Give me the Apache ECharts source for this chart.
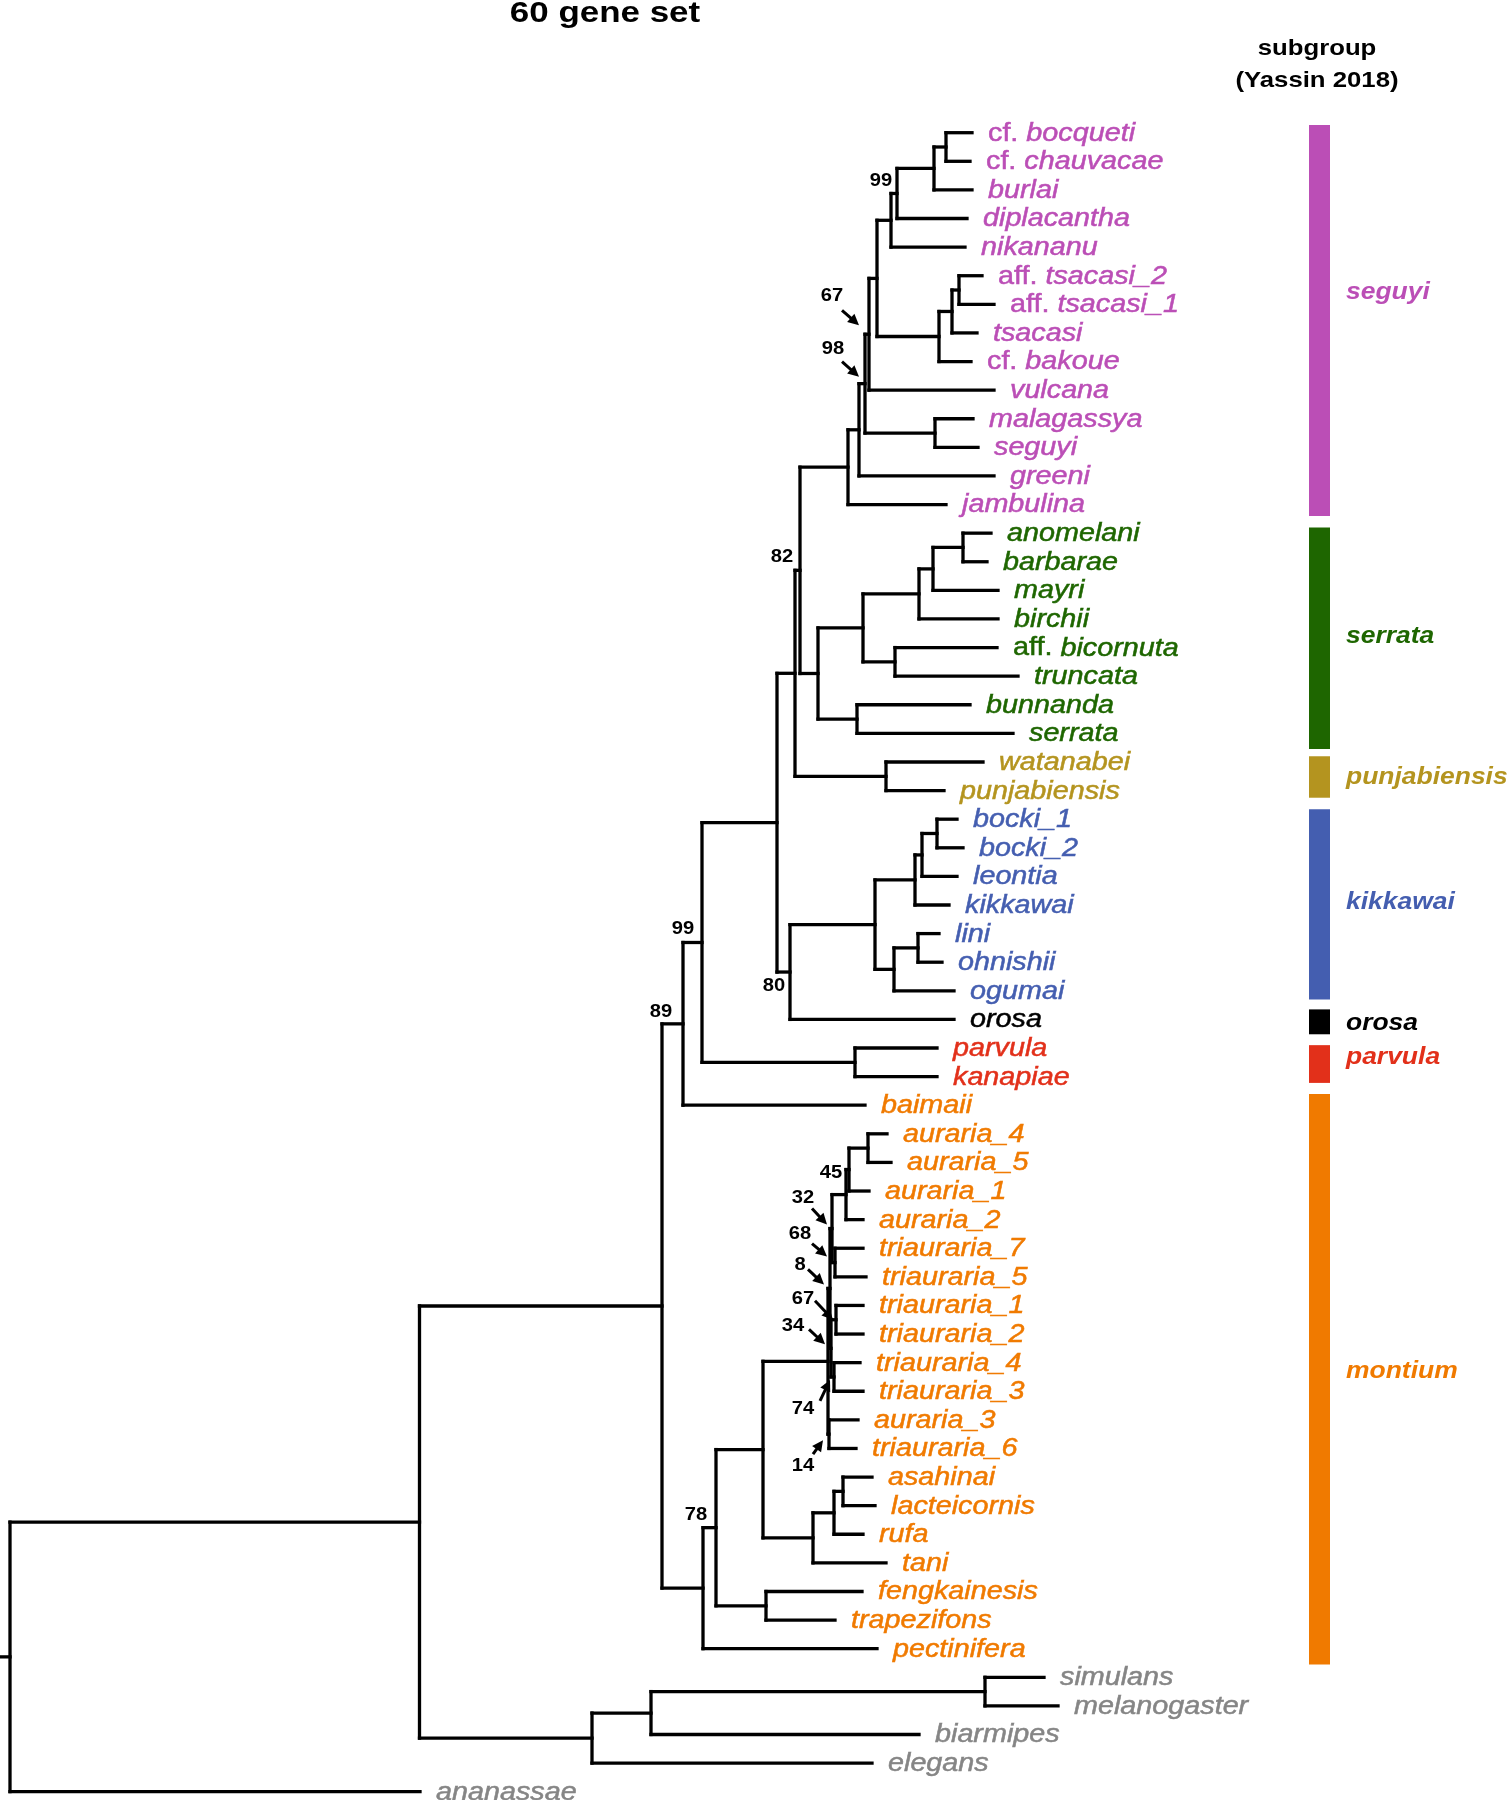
<!DOCTYPE html>
<html><head><meta charset="utf-8">
<script src="https://cdn.jsdelivr.net/npm/echarts@6/dist/echarts.min.js"></script>
<style>html,body{margin:0;padding:0;background:#fff}#c{width:1508px;height:1800px}</style>
</head><body><div id="c"></div>
<script>
// ---------------- DATA ----------------
const leafNames = ['cf. bocqueti','cf. chauvacae','burlai','diplacantha','nikananu','aff. tsacasi_2','aff. tsacasi_1','tsacasi','cf. bakoue','vulcana','malagassya','seguyi','greeni','jambulina','anomelani','barbarae','mayri','birchii','aff. bicornuta','truncata','bunnanda','serrata','watanabei','punjabiensis','bocki_1','bocki_2','leontia','kikkawai','lini','ohnishii','ogumai','orosa','parvula','kanapiae','baimaii','auraria_4','auraria_5','auraria_1','auraria_2','triauraria_7','triauraria_5','triauraria_1','triauraria_2','triauraria_4','triauraria_3','auraria_3','triauraria_6','asahinai','lacteicornis','rufa','tani','fengkainesis','trapezifons','pectinifera','simulans','melanogaster','biarmipes','elegans','ananassae'];
// subgroup index of each leaf (7 = outgroup)
const leafGroup = [0,0,0,0,0,0,0,0,0,0,0,0,0,0, 1,1,1,1,1,1,1,1, 2,2, 3,3,3,3,3,3,3, 4, 5,5, 6,6,6,6,6,6,6,6,6,6,6,6,6,6,6,6,6,6,6,6, 7,7,7,7,7];
// depth of each tip (distance from root)
const tipDepth = [0.962,0.960,0.962,0.957,0.955,0.972,0.984,0.967,0.961,0.984,0.963,0.968,0.984,0.936,0.981,0.977,0.988,0.988,0.987,1.008,0.960,1.003,0.973,0.934,0.947,0.953,0.947,0.939,0.929,0.932,0.944,0.944,0.927,0.927,0.855,0.877,0.881,0.859,0.853,0.853,0.856,0.853,0.853,0.850,0.853,0.848,0.846,0.862,0.865,0.853,0.876,0.852,0.825,0.867,1.034,1.048,0.909,0.862,0.410];
// internal nodes (post-order): id, children (leaf index or node id), depth
const nodeIds = ['BC','BCB','S99','SB','TS1','TS2','TS','SA','S67','MS','S98','S98G','SEG','AB','SERc','SERb','BT','SERa','BS','SER','N82','PW','N795','K4','K3','K1','LO','K2','KIK','N80','N776','PK','N99','N89','A45','A451','C1','C2','N32','C3','C4','Na','Nb','C5','R','AL','AS2','AS','X2','FT','X1','M78','NM','SM','N654','N595','ING','ROOT'];
const nodeKids = [[0,1],['BC',2],['BCB',3],['S99',4],[5,6],['TS1',7],['TS2',8],['SB','TS'],['SA',9],[10,11],['S67','MS'],['S98',12],['S98G',13],[14,15],['AB',16],['SERc',17],[18,19],['SERb','BT'],[20,21],['SERa','BS'],['SEG','SER'],[22,23],['N82','PW'],[24,25],['K4',26],['K3',27],[28,29],['LO',30],['K1','K2'],['KIK',31],['N795','N80'],[32,33],['N776','PK'],['N99',34],[35,36],['A45',37],['A451',38],[39,40],['C1','C2'],[41,42],[43,44],['C3','C4'],['N32','Na'],[45,46],['Nb','C5'],[47,48],['AL',49],['AS2',50],['R','AS'],[51,52],['X2','FT'],['X1',53],['N89','M78'],[54,55],['SM',56],['N654',57],['NM','N595'],['ING',58]];
const nodeDepth = [0.936,0.924,0.887,0.881,0.949,0.942,0.929,0.867,0.859,0.925,0.855,0.849,0.838,0.953,0.923,0.909,0.885,0.853,0.847,0.808,0.790,0.876,0.785,0.927,0.912,0.905,0.908,0.884,0.865,0.780,0.767,0.845,0.692,0.673,0.858,0.839,0.836,0.825,0.822,0.826,0.824,0.821,0.820,0.819,0.818,0.833,0.824,0.803,0.753,0.756,0.706,0.693,0.652,0.975,0.641,0.582,0.4095,0.000];
// bootstrap support shown on the tree
const supportNode  = ['S99','N82','N99','N89','N80','X1','A451','S67','S98','N32','C2','Nb','C3','Na','C4','C5'];
const supportValue = [99,82,99,89,80,78,45,67,98,32,68,8,67,34,74,14];
// subgroups (Yassin 2018)
const groupNames = ['seguyi','serrata','punjabiensis','kikkawai','orosa','parvula','montium'];
const groupBarStart = [-0.27,13.8,21.8,23.65,30.65,31.9,33.61];
const groupBarEnd   = [13.4,21.55,23.25,30.3,31.52,33.22,53.55];
const groupLabelAt  = [5.59,17.63,22.56,26.93,31.16,32.35,43.31];

// ---------------- STYLE / LAYOUT ----------------
const groupColors = ['#BB4EB6','#1E6600','#B4941F','#445EB0','#000000','#E2301A','#F07A00','#858585'];
const FONT = "'Liberation Sans', Arial, Helvetica, sans-serif";
const L = {
  gridTop: 132.7, gridBottom: 8.3, xMin: -0.01, xMax: 1.498,
  rootStem: 0.01, lineWidth: 3.3, labelGap: 16, leafFont: 25, leafScale: 1.15,
  barX: [1.299, 1.320], groupLabelX: 1.336
};
// pixel offsets for support labels / arrows relative to their node: [label dx,dy], arrow tip, arrow start
const supportLayout = {
  S99:{l:[-16,-12]}, N82:{l:[-18,-13]}, N99:{l:[-19,-13]}, N89:{l:[-22,-12]}, N80:{l:[-16,14]},
  X1:{l:[-20,-13]}, A451:{l:[-18,3]},
  S67:{l:[-37,-38], t:[-10,-9], s:[-27,-24]},
  S98:{l:[-32,-35], t:[-6,-7], s:[-23,-22]},
  N32:{l:[-29,-31], t:[-5,-4], s:[-20,-20]},
  C2:{l:[-35,-29], t:[-8,-6], s:[-23,-19]},
  Nb:{l:[-30,-23], t:[-6,-4], s:[-22,-19]},
  C3:{l:[-33,-21], t:[-3,0], s:[-21,-19]},
  Na:{l:[-38,-22], t:[-6,-4], s:[-22,-19]},
  C4:{l:[-31,32], t:[-4,3], s:[-14,24]},
  C5:{l:[-26,32], t:[-6,6], s:[-16,20]}
};

// ---------------- TREE LAYOUT ----------------
const P = {};
leafNames.forEach((n, i) => { P[i] = { x: tipDepth[i], y: i }; });
const segs = [];
nodeIds.forEach((id, k) => {
  const kids = nodeKids[k];
  const y0 = P[kids[0]].y, y1 = P[kids[kids.length - 1]].y;
  P[id] = { x: nodeDepth[k], y: (y0 + y1) / 2 };
  segs.push([nodeDepth[k], y0, nodeDepth[k], y1]);
  kids.forEach(c => segs.push([nodeDepth[k], P[c].y, P[c].x, P[c].y]));
});
segs.push([P.ROOT.x - L.rootStem, P.ROOT.y, P.ROOT.x, P.ROOT.y]);

const chart = echarts.init(document.getElementById('c'), null, { renderer: 'canvas' });

chart.setOption({
  animation: false,
  backgroundColor: '#fff',
  grid: { left: 0, right: 0, top: L.gridTop, bottom: L.gridBottom },
  xAxis: { type: 'value', min: L.xMin, max: L.xMax, show: false },
  yAxis: { type: 'value', min: 0, max: leafNames.length - 1, inverse: true, show: false },
  graphic: [
    { type: 'text', x: 605, y: 14, scaleX: 1.165, style: { text: '60 gene set', fontFamily: FONT, fontWeight: 'bold', fontSize: 30, fill: '#000', align: 'center', verticalAlign: 'middle', textAlign: 'center', textVerticalAlign: 'middle' } },
    { type: 'text', x: 1317, y: 49, scaleX: 1.17, style: { text: 'subgroup', fontFamily: FONT, fontWeight: 'bold', fontSize: 22, fill: '#000', align: 'center', verticalAlign: 'middle', textAlign: 'center', textVerticalAlign: 'middle' } },
    { type: 'text', x: 1317, y: 81, scaleX: 1.17, style: { text: '(Yassin 2018)', fontFamily: FONT, fontWeight: 'bold', fontSize: 22, fill: '#000', align: 'center', verticalAlign: 'middle', textAlign: 'center', textVerticalAlign: 'middle' } }
  ],
  series: [
    { // branches
      type: 'custom', coordinateSystem: 'cartesian2d', data: segs, encode: { x: [0, 2], y: [1, 3] },
      renderItem(params, api) {
        const a = api.coord([api.value(0), api.value(1)]);
        const b = api.coord([api.value(2), api.value(3)]);
        return { type: 'line', shape: { x1: a[0], y1: a[1], x2: b[0], y2: b[1] },
          style: { stroke: '#000', lineWidth: L.lineWidth, lineCap: 'square' } };
      }
    },
    { // tip labels
      type: 'custom', coordinateSystem: 'cartesian2d',
      data: leafNames.map((n, i) => [tipDepth[i], i]), encode: { x: 0, y: 1 },
      renderItem(params, api) {
        const i = params.dataIndex;
        const p = api.coord([api.value(0), api.value(1)]);
        const name = leafNames[i];
        const color = groupColors[leafGroup[i]];
        const base = { fontFamily: FONT, fontSize: L.leafFont, fill: color, stroke: color, lineWidth: 0.5 };
        const m = name.match(/^(cf\.|aff\.) (.*)$/);
        let style;
        if (m) {
          style = Object.assign({}, base, { text: '{p|' + m[1] + ' }{n|' + m[2] + '}', fontStyle: 'italic',
            rich: { p: Object.assign({}, base, { fontStyle: 'normal' }), n: Object.assign({}, base, { fontStyle: 'italic' }) } });
        } else {
          style = Object.assign({}, base, { text: name, fontStyle: 'italic' });
        }
        Object.assign(style, { align: 'left', verticalAlign: 'middle', textAlign: 'left', textVerticalAlign: 'middle' });
        return { type: 'text', x: p[0] + L.labelGap, y: p[1] + 1, scaleX: L.leafScale, style };
      }
    },
    { // support values
      type: 'custom', coordinateSystem: 'cartesian2d',
      data: supportNode.map(id => [P[id].x, P[id].y]), encode: { x: 0, y: 1 },
      renderItem(params, api) {
        const k = params.dataIndex;
        const lay = supportLayout[supportNode[k]];
        const p = api.coord([api.value(0), api.value(1)]);
        const children = [];
        children.push({ type: 'text', x: p[0] + lay.l[0], y: p[1] + lay.l[1], scaleX: 1.12,
          style: { text: String(supportValue[k]), fontFamily: FONT, fontWeight: 'bold', fontSize: 18, fill: '#000',
            align: 'center', verticalAlign: 'middle', textAlign: 'center', textVerticalAlign: 'middle' } });
        if (lay.t) {
          const tx = p[0] + lay.t[0], ty = p[1] + lay.t[1];
          const sx = p[0] + lay.s[0], sy = p[1] + lay.s[1];
          const dx = tx - sx, dy = ty - sy, len = Math.hypot(dx, dy);
          const ux = dx / len, uy = dy / len, hl = 11, hw = 5.5;
          const bx = tx - ux * hl, by = ty - uy * hl;
          children.push({ type: 'line', shape: { x1: sx, y1: sy, x2: bx + ux, y2: by + uy }, style: { stroke: '#000', lineWidth: 3 } });
          children.push({ type: 'polygon', shape: { points: [[tx, ty], [bx - uy * hw, by + ux * hw], [bx + uy * hw, by - ux * hw]] }, style: { fill: '#000' } });
        }
        return { type: 'group', children };
      }
    },
    { // subgroup bars + names
      type: 'custom', coordinateSystem: 'cartesian2d',
      data: groupNames.map((g, k) => [groupBarStart[k], groupBarEnd[k], groupLabelAt[k]]), encode: { y: [0, 1] },
      renderItem(params, api) {
        const k = params.dataIndex;
        const a = api.coord([L.barX[0], api.value(0)]);
        const b = api.coord([L.barX[1], api.value(1)]);
        const t = api.coord([L.groupLabelX, api.value(2)]);
        return { type: 'group', children: [
          { type: 'rect', shape: { x: a[0], y: a[1], width: b[0] - a[0], height: b[1] - a[1] }, style: { fill: groupColors[k] } },
          { type: 'text', x: t[0], y: t[1], scaleX: 1.15, style: { text: groupNames[k], fontFamily: FONT, fontWeight: 'bold', fontStyle: 'italic', fontSize: 23, fill: groupColors[k],
            align: 'left', verticalAlign: 'middle', textAlign: 'left', textVerticalAlign: 'middle' } }
        ] };
      }
    }
  ]
});
</script></body></html>
